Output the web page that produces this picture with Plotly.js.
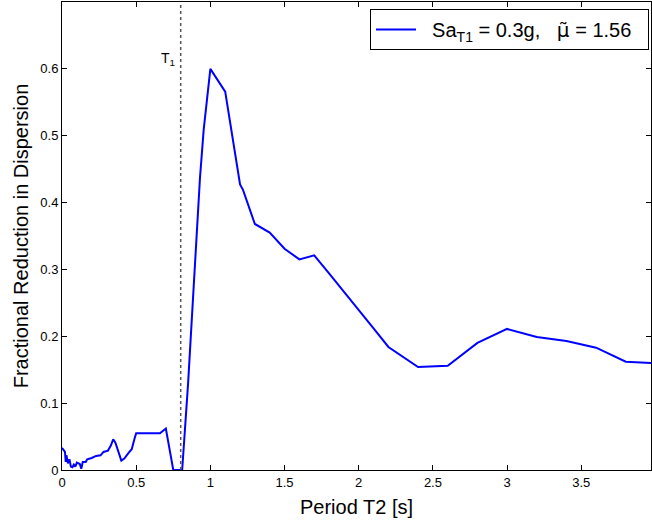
<!DOCTYPE html>
<html>
<head>
<meta charset="utf-8">
<script src="https://cdn.plot.ly/plotly-3.0.1.min.js"></script>
<style>html,body{margin:0;padding:0;background:#fff;}#chart{width:652px;height:523px;}</style>
</head>
<body>
<div id="chart"></div>
<script>
const periodT2 = [0, 0.01, 0.02, 0.025, 0.03, 0.04, 0.05, 0.06, 0.07, 0.08, 0.09, 0.1, 0.11, 0.12, 0.13, 0.14, 0.16, 0.17, 0.2, 0.23, 0.26, 0.28, 0.31, 0.33, 0.345, 0.36, 0.4, 0.42, 0.45, 0.47, 0.49, 0.5, 0.66, 0.7, 0.75, 0.81, 0.85, 0.9, 0.93, 0.955, 0.98, 1.0, 1.1, 1.2, 1.22, 1.3, 1.4, 1.5, 1.6, 1.7, 1.8, 1.9, 2.0, 2.1, 2.2, 2.4, 2.6, 2.8, 3.0, 3.2, 3.4, 3.6, 3.8, 3.97];
const reduction = [0.033, 0.029, 0.027, 0.012, 0.022, 0.010, 0.016, 0.005, 0.004, 0.008, 0.005, 0.011, 0.010, 0.009, 0.002, 0.012, 0.012, 0.016, 0.018, 0.021, 0.022, 0.027, 0.029, 0.037, 0.046, 0.041, 0.014, 0.017, 0.026, 0.031, 0.048, 0.055, 0.055, 0.062, 0.0, 0.0, 0.13, 0.33, 0.437, 0.509, 0.564, 0.600, 0.566, 0.427, 0.419, 0.368, 0.355, 0.331, 0.315, 0.321, 0.294, 0.267, 0.240, 0.212, 0.184, 0.154, 0.156, 0.190, 0.211, 0.199, 0.193, 0.183, 0.162, 0.160];
const T1 = 0.8;
const xTicks = [0, 0.5, 1, 1.5, 2, 2.5, 3, 3.5];
const yTicks = [0, 0.1, 0.2, 0.3, 0.4, 0.5, 0.6];
const seriesName = '\u00a0\u00a0Sa<sub>T1</sub> = 0.3g,\u00a0\u00a0\u00a0<span style="font-family:DejaVu Sans">\u03bc\u0303</span> = 1.56\u00a0\u00a0';

const font = 'Liberation Sans, Arial, sans-serif';

const trace = {
  x: periodT2, y: reduction, type: 'scatter', mode: 'lines',
  name: seriesName,
  line: {color: '#0000ff', width: 2}
};

const axisCommon = {
  showgrid: false, zeroline: false, showline: true, linecolor: '#000', linewidth: 1,
  mirror: 'ticks', ticks: 'inside', ticklen: 5, tickcolor: '#000',
  tickfont: {family: font, size: 13, color: '#000'}
};

const layout = {
  width: 652, height: 523,
  margin: {l: 62, r: 1, t: 2, b: 53},
  paper_bgcolor: '#fff', plot_bgcolor: '#fff',
  showlegend: true,
  legend: {
    x: 0.9966, xanchor: 'right', y: 0.985, yanchor: 'top',
    bordercolor: '#000', borderwidth: 1, bgcolor: '#fff',
    font: {family: font, size: 20, color: '#000'},
    itemwidth: 40
  },
  xaxis: Object.assign({}, axisCommon, {
    range: [0, 3.97], tickvals: xTicks, ticktext: xTicks.map(String),
    title: {text: 'Period T2 [s]', font: {family: font, size: 20, color: '#000'}, standoff: 11}
  }),
  yaxis: Object.assign({}, axisCommon, {
    range: [0, 0.7], tickvals: yTicks, ticktext: yTicks.map(String),
    title: {text: 'Fractional Reduction in Dispersion', font: {family: font, size: 20, color: '#000'}, standoff: 6}
  }),
  shapes: [{
    type: 'line', xref: 'x', yref: 'paper', x0: T1, x1: T1, y0: 0, y1: 1,
    line: {color: '#555', width: 1.5, dash: 'dot'}
  }],
  annotations: [{
    xref: 'x', yref: 'y', x: T1, y: 0.615, xanchor: 'right', yanchor: 'middle',
    xshift: -4, text: 'T<sub>1</sub>', showarrow: false,
    font: {family: font, size: 14, color: '#000'}
  }]
};

Plotly.newPlot('chart', [trace], layout, {displayModeBar: false, staticPlot: true});
</script>
</body>
</html>
